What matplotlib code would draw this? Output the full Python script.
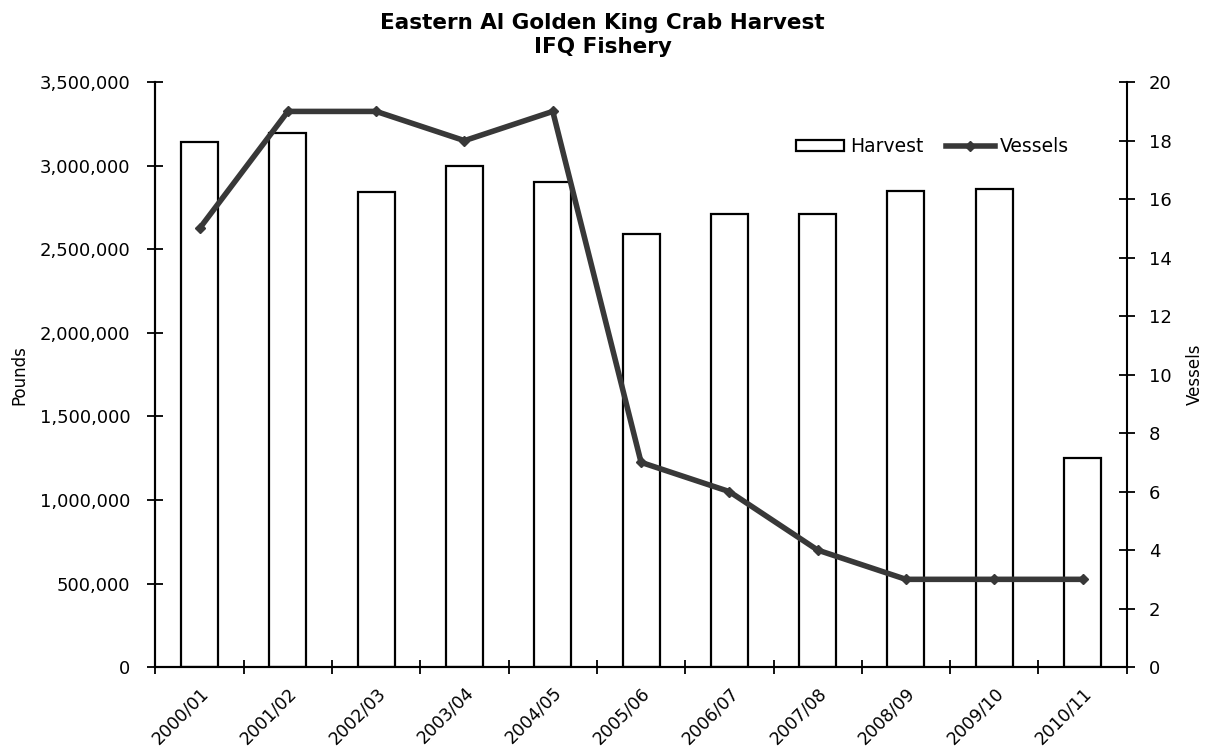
import matplotlib.pyplot as plt
import numpy as np
from matplotlib.ticker import FuncFormatter, FixedLocator

plt.rcParams['font.family'] = ['DejaVu Sans']

# datos
temporadas = ['2000/01', '2001/02', '2002/03', '2003/04', '2004/05', '2005/06',
              '2006/07', '2007/08', '2008/09', '2009/10', '2010/11']
cosecha = [3140000, 3195000, 2840000, 3000000, 2900000, 2590000,
           2710000, 2710000, 2850000, 2860000, 1250000]
barcos = [15, 19, 19, 18, 19, 7, 6, 4, 3, 3, 3]

fig = plt.figure(figsize=(12.05, 7.47), dpi=100)
ax = fig.add_axes([0.129, 0.107, 0.806, 0.783])
ax2 = ax.twinx()

x = np.arange(len(temporadas))
ax.bar(x, cosecha, width=0.42, facecolor='white', edgecolor='black',
       linewidth=1.6, label='Harvest', zorder=2)
ax2.plot(x, barcos, color='#383838', linewidth=4, marker='D', markersize=5,
         label='Vessels', zorder=3)

ax.set_xlim(-0.5, len(temporadas) - 0.5)
ax.set_ylim(0, 3500000)
ax2.set_ylim(0, 20)

ax.set_yticks(np.arange(0, 3500001, 500000))
ax.yaxis.set_major_formatter(FuncFormatter(lambda v, p: f'{int(v):,}'))
ax2.set_yticks(np.arange(0, 21, 2))

ax.set_xticks(x)
ax.set_xticklabels(temporadas, rotation=45, ha='right', rotation_mode='anchor',
                   fontsize=12.5)
ax.xaxis.set_minor_locator(FixedLocator(np.arange(-0.5, len(temporadas), 1)))
ax.tick_params(axis='x', which='major', length=0, pad=12)
ax.tick_params(axis='x', which='minor', length=10, direction='inout', width=1.3)
ax.tick_params(axis='y', length=12, direction='inout', width=1.3,
               labelsize=13, pad=12)
ax2.tick_params(axis='y', length=12, direction='inout', width=1.3,
                labelsize=13, pad=10)

for a in (ax, ax2):
    a.spines['top'].set_visible(False)
    for s in ('left', 'right', 'bottom'):
        a.spines[s].set_linewidth(1.5)
ax.spines['right'].set_visible(False)

ax.set_ylabel('Pounds', fontsize=12, labelpad=8)
ax2.set_ylabel('Vessels', fontsize=12, labelpad=10)

fig.suptitle('Eastern Al Golden King Crab Harvest\nIFQ Fishery',
             fontsize=15.5, fontweight='bold', y=0.982, linespacing=1.25)

h1, l1 = ax.get_legend_handles_labels()
h2, l2 = ax2.get_legend_handles_labels()
ax2.legend(h1 + h2, l1 + l2, loc='center', bbox_to_anchor=(0.8, 0.89),
           ncol=2, frameon=False, fontsize=13.5, handlelength=2.6,
           handleheight=0.5, columnspacing=1.2, handletextpad=0.3)

plt.savefig('out.png', dpi=100)
